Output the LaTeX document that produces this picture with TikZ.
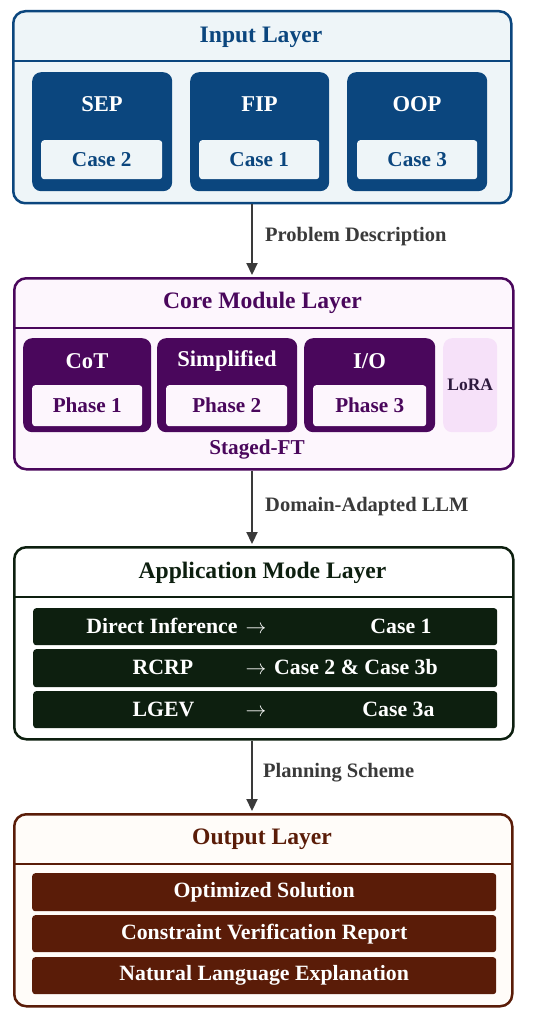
\documentclass[tikz,border=0pt]{standalone}
\usepackage{fontspec}
\setmainfont{Liberation Serif}
\usetikzlibrary{arrows.meta}
\definecolor{bl}{HTML}{0B467E}
\definecolor{blbg}{HTML}{EEF5F8}
\definecolor{pu}{HTML}{4A075C}
\definecolor{pubg}{HTML}{FDF6FD}
\definecolor{pulora}{HTML}{F6E1F9}
\definecolor{loratxt}{HTML}{2E1A3E}
\definecolor{gr}{HTML}{0D1F0F}
\definecolor{br}{HTML}{5A1C08}
\definecolor{brbg}{HTML}{FFFCF9}
\definecolor{arr}{HTML}{3A3A3A}
\tikzset{
  layer/.style={draw, line width=2.5pt, rounded corners=12pt, anchor=north west, inner sep=0pt},
  card/.style={rounded corners=9pt, anchor=north west, inner sep=0pt},
  tagbox/.style={rounded corners=3pt, anchor=north west, inner sep=0pt},
  ttl/.style={font=\bfseries\fontsize{23.6}{27}\selectfont, inner sep=0pt},
  subttl/.style={font=\bfseries\fontsize{22.6}{26}\selectfont, inner sep=0pt},
  inner/.style={font=\bfseries\fontsize{21.2}{24}\selectfont},
  rowtxt/.style={font=\bfseries\fontsize{21.8}{25}\selectfont, text=white, inner sep=0pt},
  rowpart/.style={rowtxt, text height=16pt, text depth=3pt},
  lbl/.style={font=\bfseries\fontsize{20.5}{23}\selectfont, text=arr, anchor=west, inner sep=0pt},
  flow/.style={draw=arr, line width=2.2pt, -{Triangle[length=12pt,width=11pt]}},
}
\begin{document}
\begin{tikzpicture}[x=1pt,y=-1pt]
\useasboundingbox (0,0) rectangle (550,1016);
\fill[white] (0,0) rectangle (550,1016);
\coordinate (ax) at (252,0);

% ---------- Input layer ----------
\node[layer, draw=bl, fill=blbg, minimum width=498pt, minimum height=192pt] (inp) at (12,10) {};
\draw[bl, line width=2pt] (12,61) -- (510,61);
\node[ttl, text=bl] (inpT) at (261,37) {Input Layer};
\node[card, fill=bl, minimum width=140pt, minimum height=119pt] (sep) at (32,72) {};
\node[card, fill=bl, minimum width=139pt, minimum height=119pt] (fip) at (190,72) {};
\node[card, fill=bl, minimum width=140pt, minimum height=119pt] (oop) at (347,72) {};
\node[subttl, text=white] (sepT) at (102,104) {SEP};
\node[subttl, text=white] (fipT) at (259.5,104) {FIP};
\node[subttl, text=white] (oopT) at (417,104) {OOP};
\node[tagbox, inner, fill=blbg, text=bl, minimum width=121pt, minimum height=39pt] (c2) at (41,140) {Case 2};
\node[tagbox, inner, fill=blbg, text=bl, minimum width=120pt, minimum height=39pt] (c1) at (199,140) {Case 1};
\node[tagbox, inner, fill=blbg, text=bl, minimum width=120pt, minimum height=39pt] (c3) at (357,140) {Case 3};

% ---------- Core module layer ----------
\node[layer, draw=pu, fill=pubg, minimum width=499pt, minimum height=191pt] (core) at (13,277) {};
\draw[pu, line width=2pt] (13,328) -- (512,328);
\node[ttl, text=pu] (coreT) at (262.5,303) {Core Module Layer};
\node[card, fill=pu, minimum width=128pt, minimum height=94pt] (cot) at (23,338) {};
\node[card, fill=pu, minimum width=140pt, minimum height=94pt] (simp) at (157,338) {};
\node[card, fill=pu, minimum width=131pt, minimum height=94pt] (io) at (304,338) {};
\node[card, fill=pulora, minimum width=54pt, minimum height=94pt, text=loratxt, font=\bfseries\fontsize{17.5}{20}\selectfont] (lora) at (443,338) {LoRA};
\node[subttl, text=white] (cotT) at (87,361) {CoT};
\node[subttl, text=white] (simpT) at (227,361) {Simplified};
\node[subttl, text=white] (ioT) at (369.5,361) {I/O};
\node[tagbox, inner, fill=pubg, text=pu, minimum width=110pt, minimum height=41pt] (p1) at (32,385) {Phase 1};
\node[tagbox, inner, fill=pubg, text=pu, minimum width=121pt, minimum height=41pt] (p2) at (166,385) {Phase 2};
\node[tagbox, inner, fill=pubg, text=pu, minimum width=113pt, minimum height=41pt] (p3) at (313,385) {Phase 3};
\node[inner, text=pu, inner sep=0pt] (staged) at (257,449) {Staged-FT};

% ---------- Application mode layer ----------
\node[layer, draw=gr, fill=white, minimum width=499pt, minimum height=192pt] (app) at (13,546) {};
\draw[gr, line width=2pt] (13,597) -- (512,597);
\node[ttl, text=gr] (appT) at (262.5,573) {Application Mode Layer};
\node[tagbox, fill=gr, minimum width=464pt, minimum height=37pt] (r1) at (33,608) {};
\node[tagbox, fill=gr, minimum width=464pt, minimum height=38pt] (r2) at (33,649) {};
\node[tagbox, fill=gr, minimum width=464pt, minimum height=37pt] (r3) at (33,691) {};
\node[rowpart] (r1a) at (162,627) {Direct Inference};
\node[rowpart] (r1b) at (256,627) {$\rightarrow$};
\node[rowpart] (r1c) at (401,627) {Case 1};
\node[rowpart] (r2a) at (163,668) {RCRP};
\node[rowpart] (r2b) at (256,668) {$\rightarrow$};
\node[rowpart, anchor=west] (r2c) at (274,668) {Case 2 \& Case 3b};
\node[rowpart] (r3a) at (163.5,710) {LGEV};
\node[rowpart] (r3b) at (256,710) {$\rightarrow$};
\node[rowpart] (r3c) at (398.5,710) {Case 3a};

% ---------- Output layer ----------
\node[layer, draw=br, fill=brbg, minimum width=498pt, minimum height=192pt] (out) at (13,813) {};
\draw[br, line width=2pt] (13,864) -- (511,864);
\node[ttl, text=br] (outT) at (262,839) {Output Layer};
\node[tagbox, fill=br, minimum width=464pt, minimum height=38pt, rowtxt] (o1) at (32,873) {Optimized Solution};
\node[tagbox, fill=br, minimum width=464pt, minimum height=37pt, rowtxt] (o2) at (32,915) {Constraint Verification Report};
\node[tagbox, fill=br, minimum width=464pt, minimum height=37pt, rowtxt] (o3) at (32,957) {Natural Language Explanation};

% ---------- connectors ----------
\draw[flow] (inp.south -| ax) -- ([yshift=2pt]core.north -| ax);
\draw[flow] (core.south -| ax) -- ([yshift=2pt]app.north -| ax);
\draw[flow] (app.south -| ax) -- ([yshift=2pt]out.north -| ax);
\node[lbl] (l1) at (265,237) {Problem Description};
\node[lbl] (l2) at (265,507) {Domain-Adapted LLM};
\node[lbl] (l3) at (263,773) {Planning Scheme};
\end{tikzpicture}
\end{document}
